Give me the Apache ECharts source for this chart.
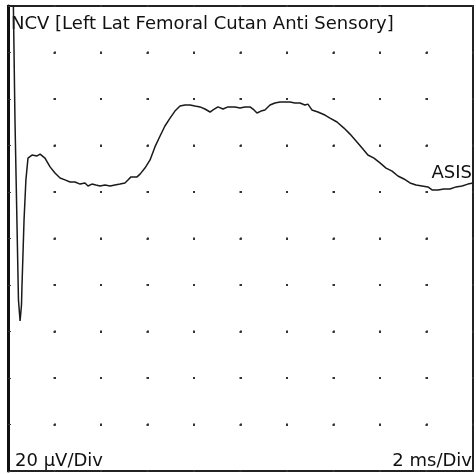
<!DOCTYPE html>
<html>
<head>
<meta charset="utf-8">
<script src="https://cdn.jsdelivr.net/npm/echarts@6/dist/echarts.min.js"></script>
<style>
html,body{margin:0;padding:0;background:#fff;}
#main{width:476px;height:474px;}
</style>
</head>
<body>
<div id="main"></div>
<script>
// 波形数据（ms / µV）
var times = [0.09, 0.19, 0.30, 0.45, 0.52, 0.58, 0.60, 0.69, 0.77, 0.86, 1.03, 1.25, 1.38, 1.46, 1.59, 1.81,
    2.02, 2.24, 2.45, 2.67, 2.88, 3.10, 3.31, 3.44, 3.61, 3.78, 3.96, 4.17, 4.39, 4.60, 4.82, 5.03, 5.16,
    5.29, 5.55, 5.68, 5.89, 6.11, 6.32, 6.54, 6.75, 6.97, 7.18, 7.40, 7.61, 7.83, 8.04, 8.26, 8.47, 8.69,
    8.82, 9.03, 9.25, 9.46, 9.76, 9.98, 10.19, 10.41, 10.58, 10.71, 10.88, 11.05, 11.27, 11.48, 11.70,
    11.91, 12.13, 12.34, 12.56, 12.77, 12.90, 13.07, 13.33, 13.63, 13.85, 14.15, 14.45, 14.71, 14.97,
    15.23, 15.48, 15.74, 16.00, 16.26, 16.52, 16.77, 17.03, 17.29, 17.55, 17.81, 18.06, 18.24, 18.49,
    18.75, 19.01, 19.27, 19.53, 19.78, 20.0];
var volts = [140, 130, 51.0, -26.5, -35.5, -28.6, -20.9, 8.0, 25.2, 34.6, 35.9, 35.5, 36.3, 35.9, 34.6, 30.8,
    28.2, 26.0, 25.2, 24.3, 24.3, 23.4, 23.9, 22.6, 23.4, 23.0, 22.6, 23.0, 22.6, 23.0, 23.4, 23.9, 25.2,
    26.5, 26.5, 27.7, 30.3, 33.8, 39.4, 44.1, 48.4, 51.8, 54.8, 57.0, 57.4, 57.4, 57.0, 56.6, 55.7, 54.4,
    55.3, 56.6, 55.7, 56.6, 56.6, 56.1, 56.6, 56.6, 55.3, 54.0, 54.8, 55.3, 57.4, 58.3, 58.7,
    58.7, 58.7, 58.3, 58.3, 57.4, 57.8, 55.3, 54.4, 53.1, 51.8, 50.1, 47.5, 44.9, 41.9,
    38.9, 35.9, 34.6, 32.5, 30.3, 29.0, 26.9, 25.6, 23.9, 23.0, 22.6, 22.2, 20.9, 20.9,
    21.3, 21.3, 22.2, 22.6, 23.4, 23.9];

var xMin = 0, xMax = 20, xDiv = 2;       // 2 ms/Div
var yMin = -100, yMax = 100, yDiv = 20;  // 20 µV/Div
var titleText = 'NCV [Left Lat Femoral Cutan Anti Sensory]';
var siteLabel = 'ASIS';
var ampLabel = '20 µV/Div';
var timeLabel = '2 ms/Div';

var points = [];
for (var i = 0; i < times.length; i++) {
    points.push([times[i], volts[i]]);
}

var chart = echarts.init(document.getElementById('main'));
var font = '18px "DejaVu Sans", Verdana, sans-serif';
var option = {
    backgroundColor: '#fff',
    animation: false,
    grid: {
        left: 8,
        top: 6,
        width: 465,
        height: 465,
        show: true,
        borderColor: '#222',
        borderWidth: 2
    },
    xAxis: {
        type: 'value',
        min: xMin,
        max: xMax,
        interval: xDiv,
        axisLine: {show: false},
        axisTick: {show: false},
        axisLabel: {show: false},
        splitLine: {
            show: true,
            lineStyle: {color: '#333', width: 2, type: [2, 44.5], dashOffset: 1}
        }
    },
    yAxis: {
        type: 'value',
        min: yMin,
        max: yMax,
        interval: yDiv,
        axisLine: {show: true, onZero: false, lineStyle: {color: '#111', width: 3}},
        axisTick: {show: true, inside: true, length: 3, lineStyle: {color: '#333'}},
        axisLabel: {show: false},
        splitLine: {
            show: true,
            lineStyle: {color: '#333', width: 2, type: [2, 44.5], dashOffset: 1}
        }
    },
    graphic: [
        {type: 'text', left: 11, top: 15, style: {text: titleText, font: font, fill: '#111'}},
        {type: 'text', left: 15, top: 452, style: {text: ampLabel, font: font, fill: '#111'}},
        {type: 'text', right: 4, top: 452, style: {text: timeLabel, font: font, fill: '#111'}},
        {type: 'text', right: 4, top: 164, style: {text: siteLabel, font: font, fill: '#111'}}
    ],
    series: [{
        type: 'line',
        data: points,
        showSymbol: false,
        clip: true,
        lineStyle: {color: '#1a1a1a', width: 1.5},
        z: 5
    }]
};
chart.setOption(option);
</script>
</body>
</html>
